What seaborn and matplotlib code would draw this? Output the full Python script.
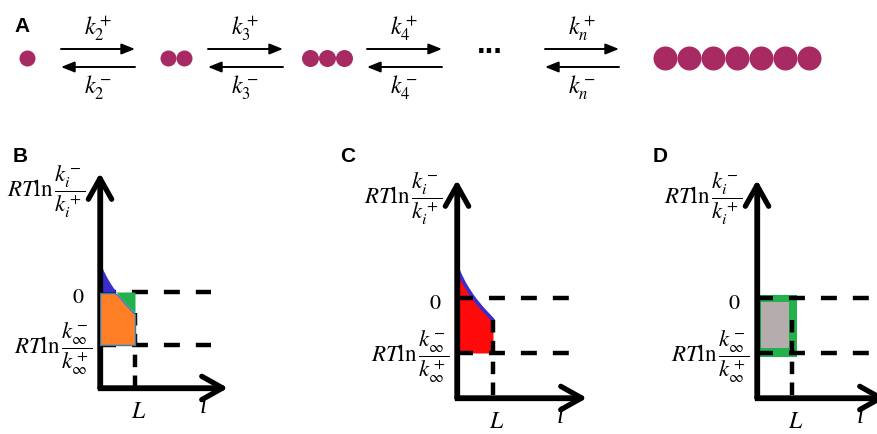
import numpy as np
import pandas as pd
import seaborn as sns
import matplotlib.pyplot as plt

# %% data
cluster_sizes = [1, 2, 3, 7]
step_labels = ["2", "3", "4", "n"]

# energy profile RT ln(k_i^- / k_i^+) against i (i in units of L)
curve_i = [0.0, 0.1, 0.2, 0.3, 0.4, 0.5, 0.6, 0.7, 0.8, 0.9, 1.0]
curve_E = [0.55, 0.40, 0.27, 0.16, 0.06, -0.03, -0.11, -0.19, -0.26, -0.33, -0.40]
L_val = 1.0
zero_level = 0.0
floor_level = -1.0  # RT ln(k_inf^- / k_inf^+)

# %% layout (pixels of the 877x434 canvas)
W, H = 877, 434
cluster_x = [27, 176, 327, 737]
bead_d = [16, 16, 17, 24]
arrow_x = [(61, 135), (208, 283), (367, 442), (545, 619)]
dots_x = 490
# panel: origin x, i-axis y, L x, zero y, floor y, top y, tip x, dash end x
panels = {
    "B": (100, 388, 135, 292, 345, 173, 228, 211),
    "C": (457, 398, 493, 298, 353, 180, 587, 570),
    "D": (757, 398, 792, 298, 353, 180, 886, 886),
}
label_pos = {"A": (22, 26), "B": (20, 156), "C": (348, 157), "D": (660, 157)}

magenta = "#a82a62"
blue = "#3a2dcc"
green = "#22b14c"
orange = "#ff7f27"
red = "#ff0a0a"
grey = "#b5adad"

sns.set_theme(style="white")
plt.rcParams["mathtext.fontset"] = "stix"
plt.rcParams["lines.scale_dashes"] = False
plt.rcParams["text.color"] = "black"

fig = plt.figure(figsize=(W / 100, H / 100), dpi=100)

# %% panel A: aggregation scheme
axA = fig.add_axes([0, 1 - 110 / H, 1, 110 / H])
axA.set_xlim(0, W)
axA.set_ylim(110, 0)
axA.axis("off")

beads = []
for n, cx, d in zip(cluster_sizes, cluster_x, bead_d):
    for k in range(n):
        beads.append({"x": cx + (k - (n - 1) / 2) * d, "y": 58, "d": d})
beads = pd.DataFrame(beads)
for d, grp in beads.groupby("d"):
    sns.scatterplot(data=grp, x="x", y="y", s=(d * 0.72) ** 2, color=magenta,
                    linewidth=0, ax=axA, legend=False)

for lab, (x0, x1) in zip(step_labels, arrow_x):
    axA.annotate("", xy=(x1, 49), xytext=(x0, 49),
                 arrowprops=dict(arrowstyle="-|>,head_length=0.5,head_width=0.2",
                                 lw=1.4, color="black", shrinkA=0, shrinkB=0,
                                 mutation_scale=16))
    axA.annotate("", xy=(x0, 67), xytext=(x1, 67),
                 arrowprops=dict(arrowstyle="-|>,head_length=0.5,head_width=0.2",
                                 lw=1.4, color="black", shrinkA=0, shrinkB=0,
                                 mutation_scale=16))
    xm = (x0 + x1) / 2
    axA.text(xm, 29, rf"$k_{{{lab}}}^+$", fontsize=17, ha="center", va="center")
    axA.text(xm, 88, rf"$k_{{{lab}}}^-$", fontsize=17, ha="center", va="center")

axA.text(dots_x, 45, "...", fontsize=22, fontweight="bold", ha="center",
         va="center", family="Liberation Sans")

# %% panels B, C, D: energy diagrams
ci = np.array(curve_i)
cE = np.array(curve_E)
dash = (0, (11.5, 11.5))


def make_panel(ox, oy, lx, zy, fy, ty, tipx, dashx):
    sx = lx - ox
    sy = fy - zy
    xmax = (tipx - ox) / sx
    ybot = (zy - oy) / sy
    ytop = (zy - ty) / sy
    ax = fig.add_axes([ox / W, 1 - oy / H, (tipx - ox) / W, (oy - ty) / H])
    ax.set_xlim(0, xmax)
    ax.set_ylim(ybot, ytop)
    ax.axis("off")
    info = dict(xmax=xmax, ybot=ybot, ytop=ytop, dash_end=(dashx - ox) / sx)
    return ax, info


def draw_axes(ax, info):
    head = dict(arrowstyle="->,head_length=0.75,head_width=0.42", lw=3.8,
                color="black", shrinkA=0, shrinkB=0, mutation_scale=20)
    ax.plot([0, 0, info["xmax"] * 0.9], [info["ytop"] * 0.9, info["ybot"], info["ybot"]],
            color="black", lw=3.8, solid_joinstyle="miter", clip_on=False, zorder=5)
    ax.annotate("", xy=(0, info["ytop"]), xytext=(0, info["ybot"]),
                arrowprops=head, annotation_clip=False, zorder=5)
    ax.annotate("", xy=(info["xmax"], info["ybot"]), xytext=(0, info["ybot"]),
                arrowprops=head, annotation_clip=False, zorder=5)


def draw_dashes(ax, info, z):
    for lev in (zero_level, floor_level):
        ax.plot([0, info["dash_end"]], [lev, lev], color="black", lw=3.2,
                linestyle=dash, zorder=z, clip_on=True)
    ax.plot([L_val, L_val], [curve_E[-1], info["ybot"]], color="black", lw=3.2,
            linestyle=(0, (9, 6)), zorder=z)


def draw_texts(ax, info):
    ax.annotate(r"$RT\ln\dfrac{k_i^-}{k_i^+}$", xy=(0, info["ytop"]),
                xytext=(-14, -19), textcoords="offset pixels", ha="right",
                va="center", fontsize=16.5, annotation_clip=False)
    ax.annotate(r"$RT\ln\dfrac{k_\infty^-}{k_\infty^+}$", xy=(0, floor_level),
                xytext=(-7, -4), textcoords="offset pixels", ha="right",
                va="center", fontsize=16.5, annotation_clip=False)
    ax.annotate(r"$0$", xy=(0, zero_level), xytext=(-16, -5),
                textcoords="offset pixels", ha="right", va="center",
                fontsize=16, annotation_clip=False)
    ax.annotate(r"$L$", xy=(L_val, info["ybot"]), xytext=(4, -23),
                textcoords="offset pixels", ha="center", va="center",
                fontsize=17, annotation_clip=False)
    ax.annotate("i", xy=(0, info["ybot"]), xytext=(103, -19),
                textcoords="offset pixels", ha="center", va="center",
                fontsize=18, family="Liberation Serif", style="italic",
                annotation_clip=False)


# B: blue above zero, green below zero, orange down to the floor
axB, iB = make_panel(*panels["B"])
draw_dashes(axB, iB, 1)
axB.fill_between(ci, zero_level, cE, where=cE >= zero_level, interpolate=True,
                 color=blue, lw=0, zorder=2)
axB.fill_between(ci, zero_level, cE, where=cE <= zero_level, interpolate=True,
                 color=green, lw=0, zorder=2)
axB.fill_between(ci, floor_level, np.minimum(cE, zero_level) - 0.02,
                 facecolor=orange, edgecolor="#2f7fb6", lw=1.0, zorder=6)
draw_axes(axB, iB)
draw_texts(axB, iB)

# C: red area between curve and floor, curve in blue
axC, iC = make_panel(*panels["C"])
axC.fill_between(ci, floor_level, cE + 0.03, color=red, lw=0, zorder=2)
sns.lineplot(x=curve_i, y=curve_E, color=blue, lw=2.6, ax=axC, zorder=3)
draw_dashes(axC, iC, 4)
draw_axes(axC, iC)
draw_texts(axC, iC)
axC.set_xlim(0, iC["xmax"])
axC.set_ylim(iC["ybot"], iC["ytop"])
axC.axis("off")

# D: grey box with green rim between zero and floor
axD, iD = make_panel(*panels["D"])
axD.fill_between([0, L_val * 1.15], floor_level - 0.07, zero_level + 0.06,
                 color=green, lw=0, zorder=2)
axD.fill_between([L_val * 0.12, L_val * 0.92], floor_level + 0.1, zero_level - 0.08,
                 color=grey, lw=0, zorder=3)
draw_dashes(axD, iD, 4)
draw_axes(axD, iD)
draw_texts(axD, iD)

# %% panel letters
for lab, (x, y) in label_pos.items():
    fig.text(x / W, 1 - y / H, lab, fontsize=15, fontweight="bold", color="black",
             family="Liberation Sans", ha="center", va="center")

fig.savefig("out.png", dpi=100)
